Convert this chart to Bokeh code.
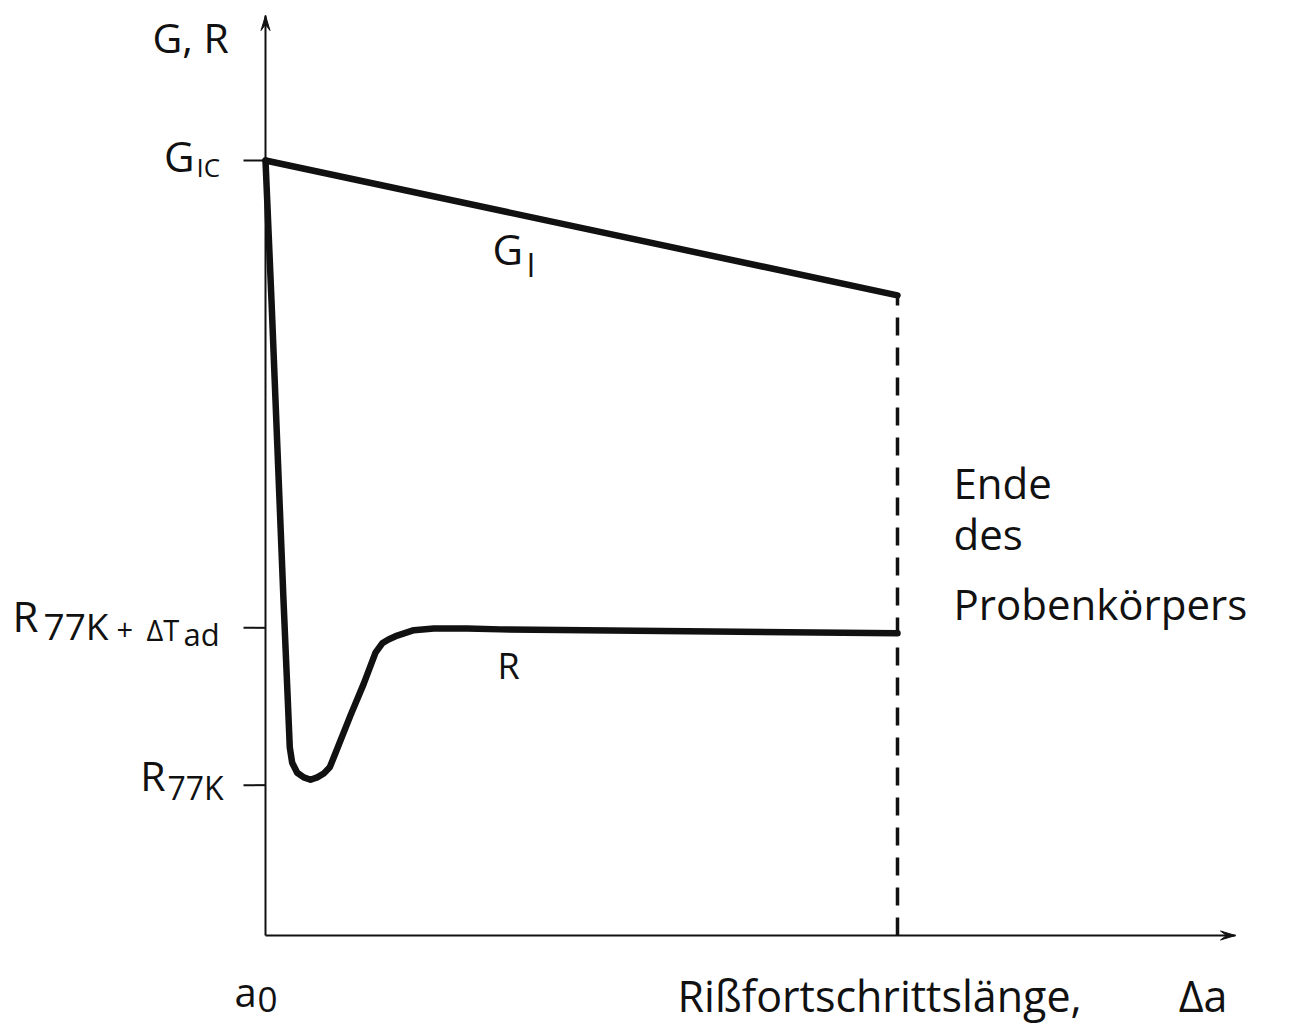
from bokeh.plotting import figure
from bokeh.models import Range1d
from bokeh.core.properties import value
from bokeh.embed import file_html
from bokeh.resources import INLINE

# ---- data (schematic units) ----------------------------------------------
# crack extension Δa: a0 at 0, end of specimen at 10
specimen_end = 10.0
# energy release rate / crack resistance levels
g_ic = 10.0
r_77k_dt = 3.97
r_77k = 1.94
tick_levels = [r_77k, r_77k_dt, g_ic]

# G_I: linear decrease from G_IC to the specimen end
gi_x = [0.0, 10.0]
gi_y = [10.0, 8.26]

# R curve: sharp drop, minimum near R_77K, recovery to the plateau
r_x = [0.0, 0.095, 0.19, 0.285, 0.353, 0.384, 0.422, 0.502, 0.606, 0.712,
       0.818, 0.922, 1.017, 1.081, 1.345, 1.555, 1.741, 1.847, 1.946, 2.084,
       2.347, 2.663, 3.191, 3.718, 10.0]
r_y = [10.0, 8.19, 6.26, 4.32, 3.03, 2.43, 2.23, 2.10, 2.04, 2.01,
       2.04, 2.09, 2.17, 2.30, 2.84, 3.25, 3.65, 3.77, 3.82, 3.87,
       3.94, 3.96, 3.96, 3.95, 3.90]

# ---- page geometry ---------------------------------------------------------
W, H = 1292, 1025
X0_PX, Y0_PX = 265, 935      # origin of the diagram on the page
SX, SY = 63.2, 77.5          # pixels per unit


def dx(px):
    return (px - X0_PX) / SX


def dy(py):
    return (Y0_PX - py) / SY


FONT = value("Open Sans")
INK = "#111111"

p = figure(width=W, height=H,
           x_range=Range1d(dx(0), dx(W)), y_range=Range1d(dy(H), dy(0)),
           output_backend="svg", toolbar_location=None,
           x_axis_location=None, y_axis_location=None,
           min_border=0, outline_line_color=None,
           background_fill_color="white", border_fill_color="white")
p.grid.visible = False

# ---- axes with arrow heads ---------------------------------------------------
x_tip = dx(1235)
y_tip = dy(15)
p.line([0, 0], [0, y_tip], line_color=INK, line_width=2)
p.line([0, x_tip], [0, 0], line_color=INK, line_width=2)

head_len, head_half = 15, 4.5
p.patch([0, dx(X0_PX - head_half), 0, dx(X0_PX + head_half)],
        [y_tip, y_tip - head_len / SY, y_tip - 0.6 * head_len / SY, y_tip - head_len / SY],
        fill_color=INK, line_color=INK, line_width=1)
p.patch([x_tip, x_tip - head_len / SX, x_tip - 0.6 * head_len / SX, x_tip - head_len / SX],
        [0, head_half / SY, 0, -head_half / SY],
        fill_color=INK, line_color=INK, line_width=1)

# tick marks on the ordinate
tick_len = 22 / SX
p.segment(x0=[-tick_len] * len(tick_levels), y0=tick_levels,
          x1=[0] * len(tick_levels), y1=tick_levels,
          line_color=INK, line_width=2)

# ---- curves --------------------------------------------------------------------
p.line(gi_x, gi_y, line_color=INK, line_width=6.5, line_join="round", line_cap="round")
p.line(r_x, r_y, line_color=INK, line_width=6.5, line_join="round", line_cap="round")

# end of the specimen (dashed, drawn upward from the abscissa)
p.line([specimen_end, specimen_end], [0, gi_y[-1]], line_color=INK, line_width=3.5,
       line_dash="18 12")


# ---- texts ----------------------------------------------------------------------
# the renderer places the "alphabetic" anchor about 0.41 em above the glyph baseline
BASELINE_LIFT = 0.41


def label(px, py, s, size, align="left"):
    p.text(x=[dx(px)], y=[dy(py - BASELINE_LIFT * size)], text=[s], text_font=FONT,
           text_font_size=value(f"{size}px"), text_color=INK,
           text_align=align, text_baseline="alphabetic")


label(152, 53, "G, R", 41)

label(194, 172, "G", 42, "right")
label(196, 177, "IC", 26)

label(12, 632, "R", 42)
label(43, 640, "77K", 37)
label(116, 641, "+", 29)
label(146, 641, "ΔT", 29)
label(183, 646, "ad", 31)

label(165, 791, "R", 41, "right")
label(167, 800, "77K", 32)

label(492, 265, "G", 42)
label(526, 277, "I", 32)

label(497, 680, "R", 36)

label(953, 499, "Ende", 42)
label(953, 550, "des", 42)
label(953, 620, "Probenkörpers", 42)

label(234, 1007, "a", 40)
label(257, 1013, "0", 35)

label(677, 1013, "Rißfortschrittslänge,", 43)
label(1227, 1013, "Δa", 43, "right")

open("out.html", "w").write(file_html(p, INLINE))
